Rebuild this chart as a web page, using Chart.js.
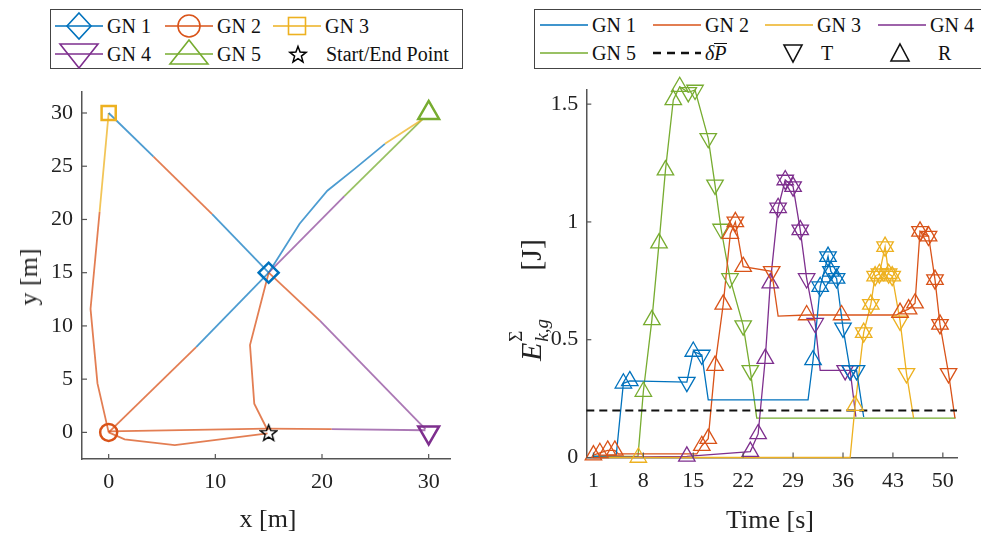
<!DOCTYPE html>
<html>
<head>
<meta charset="utf-8">
<script src="https://cdn.jsdelivr.net/npm/chart.js@4.4.1/dist/chart.umd.min.js"></script>
<style>
html, body { margin: 0; padding: 0; background: #fff; overflow: hidden; }
body { width: 981px; height: 534px; position: relative; font-family: "Liberation Serif", serif; color: #111; }
canvas { position: absolute; top: 0; }
#mapCanvas { left: 0; }
#energyCanvas { left: 470px; }
.legend { position: absolute; border: 1.5px solid #444; background: #fff; box-sizing: border-box; }
.item { position: absolute; display: flex; align-items: center; height: 30px; font-size: 20px; white-space: nowrap; }
.item svg { margin-right: 4px; }
.lab { position: absolute; font-size: 26px; white-space: nowrap; transform: translate(-50%, -50%); color: #222; }
.rot { transform: translate(-50%, -50%) rotate(-90deg); }
.ss { display: inline-block; position: relative; width: 38px; height: 10px; }
.sup { position: absolute; left: 1px; top: -26px; font-size: 19px; }
.sub { position: absolute; left: 1px; top: 0px; font-size: 19px; }
.gap { display: inline-block; width: 34px; }
.ovl { display: inline-block; border-top: 1.5px solid #111; line-height: 18px; margin-top: 2px; }
</style>
</head>
<body>
<canvas id="mapCanvas" width="470" height="534"></canvas>
<canvas id="energyCanvas" width="511" height="534"></canvas>
<div class="legend" id="legMap" style="left:50px;top:9px;width:413px;height:60px;"></div>
<div class="legend" id="legEnergy" style="left:534px;top:9px;width:470px;height:60px;"></div>
<div class="lab" style="left:268px;top:519px;">x [m]</div>
<div class="lab rot" style="left:29px;top:277px;">y [m]</div>
<div class="lab" style="left:770px;top:520px;">Time [s]</div>
<div class="lab rot" style="left:531px;top:300px;font-size:30px;"><i>E</i><span class="ss"><span class="sup">Σ</span><span class="sub"><i>k,g</i></span></span><span class="gap"></span>[J]</div>
<script>
// ---------- left: positions of ground nodes and UAV path ----------
const gnNames = ["GN 1", "GN 2", "GN 3", "GN 4", "GN 5"];
const gnX = [15, 0, 0, 30, 30];
const gnY = [15, 0, 30, 0, 30];
const startX = [15];
const startY = [0];
const mapTicksX = [0, 10, 20, 30];
const mapTicksY = [0, 5, 10, 15, 20, 25, 30];

// path pieces, each one coloured by the GN served on it (index into gnNames)
const segGN = [0, 1, 0, 1, 3, 1, 0, 0, 2, 3, 4, 2, 1, 1, 1, 1, 3, 1];
const segX = [
    [0, 4.2], [4.2, 9.7], [9.7, 15], [15, 19.8], [19.8, 29.7],
    [0, 8.2], [8.2, 15], [15, 17.9, 20.5, 23.0, 25.9], [25.9, 29.4],
    [15, 22.1], [22.1, 29.5], [0, -0.85], [-0.85, -1.7, -1.05, 0],
    [0, 14.8], [0, 1.5, 6.2, 14.9], [14.8, 20.9], [20.9, 29.7],
    [15, 13.25, 13.65, 14.9]
];
const segY = [
    [30, 25.9], [25.9, 20.5], [20.5, 15], [15, 10.5], [10.5, 0.3],
    [0, 8.0], [8.0, 15], [15, 19.6, 22.7, 24.7, 27.1], [27.1, 29.4],
    [15, 22.2], [22.2, 29.5], [30, 20.7], [20.7, 11.6, 4.6, 0],
    [0.1, 0.35], [0, -0.65, -1.2, -0.1], [0.35, 0.3], [0.3, 0.2],
    [15, 8.2, 2.7, 0.2]
];

// ---------- right: accumulated energy per GN ----------
// mark: R = received (up triangle), T = transmit (down triangle)
const timeTicks = [1, 8, 15, 22, 29, 36, 43, 50];
const energyTicks = [0, 0.5, 1, 1.5];
const thresholdTime = [0, 52];
const thresholdEnergy = [0.2, 0.2];

const gn1Time   = [1, 4.2, 5.2, 6.1, 14.1, 15.0, 16.2, 17.1, 31.1, 31.8, 32.8, 33.9, 34.3, 35.1, 36.0, 37.0, 37.9, 38.9];
const gn1Energy = [0.005, 0.01, 0.315, 0.325, 0.32, 0.45, 0.435, 0.245, 0.245, 0.414, 0.725, 0.853, 0.79, 0.76, 0.55, 0.37, 0.37, 0.172];
const gn1Mark   = ["", "", "R", "R", "T", "R", "T", "", "", "R", "RT", "RT", "RT", "RT", "T", "T", "T", ""];

const gn2Time   = [1, 1.9, 3.0, 4.0, 4.5, 15.5, 16.2, 17.1, 18.05, 19.2, 20.2, 20.9, 22.0, 26.0, 26.9, 30.9, 35.8, 43.5, 44.0, 45.2, 46.1, 46.8, 48.0, 48.9, 49.6, 50.8, 51.7];
const gn2Energy = [0.01, 0.02, 0.03, 0.03, 0.015, 0.015, 0.05, 0.08, 0.39, 0.65, 0.95, 1.0, 0.81, 0.79, 0.6, 0.605, 0.605, 0.605, 0.615, 0.63, 0.655, 0.96, 0.94, 0.755, 0.565, 0.357, 0.167];
const gn2Mark   = ["R", "R", "R", "R", "", "", "R", "R", "R", "R", "R", "RT", "R", "T", "", "R", "R", "", "R", "R", "R", "RT", "RT", "RT", "RT", "T", ""];

const gn3Time   = [1, 7.3, 37.0, 37.7, 38.9, 39.9, 40.5, 41.1, 41.9, 42.4, 42.9, 44.0, 44.9, 45.9];
const gn3Energy = [0, 0, 0, 0.22, 0.53, 0.65, 0.77, 0.78, 0.895, 0.78, 0.77, 0.58, 0.357, 0.167];
const gn3Mark   = ["", "R", "", "R", "RT", "RT", "RT", "RT", "RT", "RT", "RT", "T", "T", ""];

const gn4Time   = [1, 14.1, 23.0, 24.1, 25.1, 25.8, 26.9, 27.9, 29.0, 30.0, 30.9, 32.1, 32.8, 36.3, 37.0, 37.8];
const gn4Energy = [0, 0.005, 0.025, 0.1, 0.42, 0.74, 1.06, 1.178, 1.15, 0.966, 0.76, 0.57, 0.37, 0.37, 0.37, 0.173];
const gn4Mark   = ["", "R", "R", "R", "R", "R", "RT", "RT", "RT", "RT", "T", "T", "", "T", "T", ""];

const gn5Time   = [1, 7.25, 8.0, 9.2, 10.2, 11.1, 12.2, 13.1, 14.3, 15.25, 17.1, 18.05, 18.9, 20.15, 22.0, 23.0, 23.9, 51.8];
const gn5Energy = [0.005, 0.005, 0.28, 0.584, 0.91, 1.22, 1.518, 1.574, 1.55, 1.56, 1.355, 1.157, 0.97, 0.76, 0.56, 0.37, 0.167, 0.167];
const gn5Mark   = ["", "", "R", "R", "R", "R", "R", "R", "T", "T", "T", "T", "T", "T", "T", "T", "", ""];

// ---------- styles ----------
const colors = ["#0072BD", "#D95319", "#EDB120", "#7E2F8E", "#77AC30"];
const pathColors = ["rgba(0,114,189,0.7)", "rgba(217,83,25,0.75)", "rgba(237,177,32,0.75)", "rgba(126,47,142,0.65)", "rgba(119,172,48,0.75)"];
const serif = "'Liberation Serif', 'Times New Roman', serif";
Chart.defaults.font.family = serif;
const tickFont = { family: serif, size: 22 };
const axisColor = "#555";

function starImage(size, lw) {
    const c = document.createElement("canvas");
    c.width = c.height = size;
    const g = c.getContext("2d");
    g.strokeStyle = "#000";
    g.lineWidth = lw;
    g.beginPath();
    for (let i = 0; i < 10; i++) {
        const r = i % 2 ? size * 0.19 : size * 0.45;
        const a = -Math.PI / 2 + i * Math.PI / 5;
        g.lineTo(size / 2 + r * Math.cos(a), size / 2 + 1 + r * Math.sin(a));
    }
    g.closePath();
    g.stroke();
    return c;
}

// MATLAB-like ticks pointing into the plot
const innerTicks = {
    id: "innerTicks",
    afterDraw(chart, args, opts) {
        const ctx = chart.ctx, a = chart.chartArea;
        const xs = chart.scales.x, ys = chart.scales.y;
        ctx.save();
        ctx.strokeStyle = axisColor;
        ctx.lineWidth = 1.2;
        xs.ticks.forEach(t => {
            const p = xs.getPixelForValue(t.value);
            ctx.beginPath(); ctx.moveTo(p, a.bottom); ctx.lineTo(p, a.bottom - opts.len); ctx.stroke();
        });
        ys.ticks.forEach(t => {
            const p = ys.getPixelForValue(t.value);
            ctx.beginPath(); ctx.moveTo(a.left, p); ctx.lineTo(a.left + opts.len, p); ctx.stroke();
        });
        ctx.restore();
    }
};

function axis(min, max, ticks, fit, pad, isX) {
    return {
        type: "linear", min, max,
        afterBuildTicks: s => { s.ticks = ticks.map(v => ({ value: v })); },
        afterFit: s => { if (isX) s.height = fit; else s.width = fit; },
        grid: { display: false, drawTicks: false },
        border: { display: true, color: axisColor, width: 1.5 },
        ticks: { font: tickFont, color: "#222", padding: pad, maxRotation: 0, autoSkip: false, callback: v => String(v) }
    };
}

const xy = (xs, ys) => xs.map((x, i) => ({ x, y: ys[i] }));

// ---------- left chart ----------
const mapSets = [];
const shapes = [
    { pointStyle: "rectRot", pointRadius: 10 },
    { pointStyle: "circle", pointRadius: 8.5 },
    { pointStyle: "rect", pointRadius: 10 },
    { pointStyle: "triangle", pointRadius: 12, rotation: 180 },
    { pointStyle: "triangle", pointRadius: 12 }
];
gnX.forEach((x, g) => {
    mapSets.push({
        data: [{ x, y: gnY[g] }], showLine: false,
        pointStyle: shapes[g].pointStyle, pointRadius: shapes[g].pointRadius,
        rotation: shapes[g].rotation || 0,
        pointBorderColor: colors[g], pointBackgroundColor: "rgba(0,0,0,0)", pointBorderWidth: 2.5
    });
});
mapSets.push({ data: xy(startX, startY), showLine: false, pointStyle: starImage(19, 1.4) });
segX.forEach((xs, i) => {
    mapSets.push({
        data: xy(xs, segY[i]), showLine: true, borderColor: pathColors[segGN[i]],
        borderWidth: 1.8, pointRadius: 0
    });
});

new Chart(document.getElementById("mapCanvas"), {
    type: "scatter",
    data: { datasets: mapSets },
    options: {
        responsive: false, animation: false, events: [],
        layout: { padding: { top: 91.7, right: 20, left: 0, bottom: 0 } },
        plugins: { legend: { display: false }, tooltip: { enabled: false }, innerTicks: { len: 5 } },
        scales: {
            x: axis(-2.5, 32, mapTicksX, 75, 10, true),
            y: axis(-2.5, 32, mapTicksY, 82, 9, false)
        }
    },
    plugins: [innerTicks]
});

// ---------- right chart ----------
const series = [
    [gn1Time, gn1Energy, gn1Mark], [gn2Time, gn2Energy, gn2Mark], [gn3Time, gn3Energy, gn3Mark],
    [gn4Time, gn4Energy, gn4Mark], [gn5Time, gn5Energy, gn5Mark]
];
const energySets = [];
series.forEach(([t, e, m], g) => {
    const pts = xy(t, e);
    ["T", "R"].forEach(code => {
        energySets.push({
            data: pts.filter((p, i) => m[i].includes(code)), showLine: false, clip: false,
            pointStyle: "triangle", rotation: code === "T" ? 180 : 0, pointRadius: 9.5,
            pointBorderColor: colors[g], pointBackgroundColor: "rgba(0,0,0,0)", pointBorderWidth: 1.3
        });
    });
});
energySets.push({
    data: xy(thresholdTime, thresholdEnergy), showLine: true, borderColor: "#111",
    borderWidth: 2, borderDash: [8, 5], pointRadius: 0
});
series.forEach(([t, e], g) => {
    energySets.push({ data: xy(t, e), showLine: true, borderColor: colors[g], borderWidth: 1.3, pointRadius: 0, clip: false });
});

new Chart(document.getElementById("energyCanvas"), {
    type: "scatter",
    data: { datasets: energySets },
    options: {
        responsive: false, animation: false, events: [],
        layout: { padding: { top: 90, right: 23.9, left: 0, bottom: 0 } },
        plugins: { legend: { display: false }, tooltip: { enabled: false }, innerTicks: { len: 5 } },
        scales: {
            x: axis(0, 52, timeTicks, 76.5, 11, true),
            y: axis(0, 1.56, energyTicks, 116.3, 8, false)
        }
    },
    plugins: [innerTicks]
});

// ---------- legends ----------
function icon(w, shape, color, withLine, dash) {
    const c = 24, cy = 15;
    let s = `<svg width="${w}" height="30" viewBox="0 0 ${w} 30">`;
    if (withLine) s += `<line x1="0" y1="${cy}" x2="48" y2="${cy}" stroke="${color}" stroke-width="${dash ? 2.5 : 1.6}"${dash ? ' stroke-dasharray="8 6"' : ""}/>`;
    const st = `fill="none" stroke="${color}" stroke-width="1.6"`;
    if (shape === "diamond") s += `<polygon points="${c},2 ${c + 12},${cy} ${c},28 ${c - 12},${cy}" ${st}/>`;
    if (shape === "circle") s += `<circle cx="${c}" cy="${cy}" r="11" ${st}/>`;
    if (shape === "square") s += `<rect x="${c - 8.5}" y="${cy - 8.5}" width="17" height="17" ${st}/>`;
    if (shape === "down") s += `<polygon points="${c - 19},5 ${c + 19},5 ${c},29" ${st}/>`;
    if (shape === "up") s += `<polygon points="${c},1 ${c + 19},25 ${c - 19},25" ${st}/>`;
    if (shape === "tDown") s += `<polygon points="${c - 9},7 ${c + 9},7 ${c},24" ${st}/>`;
    if (shape === "tUp") s += `<polygon points="${c},6 ${c + 9},23 ${c - 9},23" ${st}/>`;
    if (shape === "star") {
        let p = [];
        for (let i = 0; i < 10; i++) {
            const r = i % 2 ? 3.6 : 8.5, a = -Math.PI / 2 + i * Math.PI / 5;
            p.push((c + r * Math.cos(a)).toFixed(1) + "," + (cy + 1 + r * Math.sin(a)).toFixed(1));
        }
        s += `<polygon points="${p.join(" ")}" fill="none" stroke="#000" stroke-width="1.5"/>`;
    }
    return s + "</svg>";
}
function addItem(box, left, top, svg, html) {
    const d = document.createElement("div");
    d.className = "item";
    d.style.left = left + "px";
    d.style.top = top + "px";
    d.innerHTML = svg + "<span>" + html + "</span>";
    box.appendChild(d);
}
const legMap = document.getElementById("legMap");
const mapShapes = ["diamond", "circle", "square", "down", "up"];
const mapPos = [[4, 1], [114, 1], [222, 1], [4, 29], [114, 29]];
gnNames.forEach((n, g) => addItem(legMap, mapPos[g][0], mapPos[g][1], icon(48, mapShapes[g], colors[g], true), n));
addItem(legMap, 223, 29, icon(48, "star", "#000", false), "Start/End Point");

const legEnergy = document.getElementById("legEnergy");
const ePos = [[5, 0], [118, 0], [230, 0], [343, 0], [5, 28]];
gnNames.forEach((n, g) => addItem(legEnergy, ePos[g][0], ePos[g][1], icon(48, "", colors[g], true), n));
addItem(legEnergy, 118, 28, icon(48, "", "#111", true, true), '<i>δ</i><span class="ovl"><i>P</i></span>');
addItem(legEnergy, 234, 28, icon(48, "tDown", "#111", false), "T");
addItem(legEnergy, 341, 28, icon(58, "tUp", "#111", false), "R");
</script>
</body>
</html>
